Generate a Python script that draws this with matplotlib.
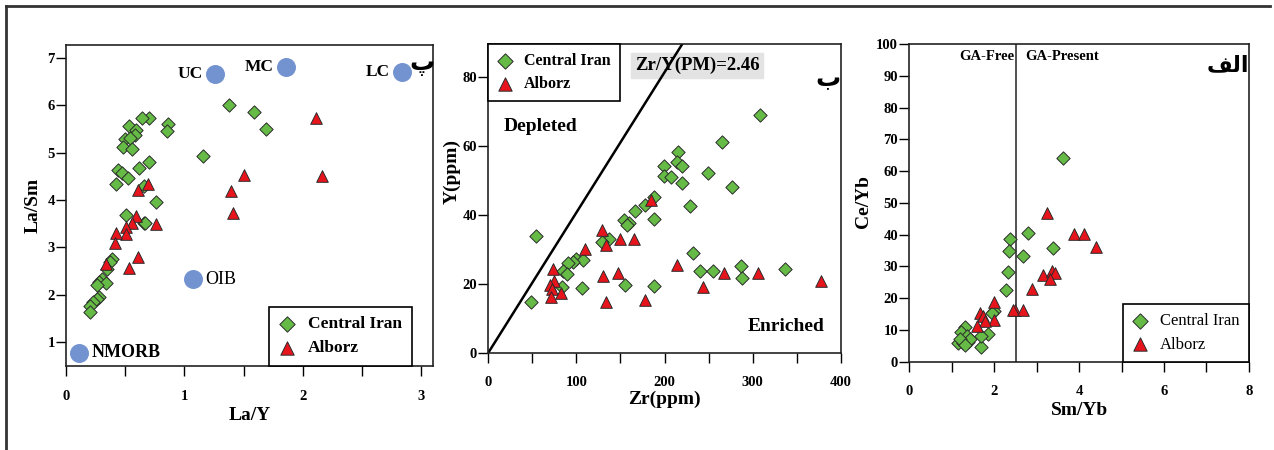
import matplotlib.pyplot as plt
from matplotlib.lines import Line2D
from matplotlib.ticker import MultipleLocator

plt.rcParams['font.family'] = ['Liberation Serif', 'DejaVu Sans']
plt.rcParams['font.weight'] = 'bold'
plt.rcParams['axes.labelweight'] = 'bold'

GREEN = '#66bb46'
RED = '#e8141c'
BLUE = '#7393d0'
EDGE = '#2b2b2b'

# La/Y vs La/Sm
lay_ci = [1.38, 1.59, 1.69, 1.16, 0.70, 0.64, 0.86, 0.85, 0.53, 0.59, 0.58, 0.50, 0.54,
          0.48, 0.56, 0.44, 0.47, 0.52, 0.42, 0.62, 0.70, 0.66, 0.76, 0.51, 0.66, 0.67,
          0.39, 0.37, 0.35, 0.30, 0.28, 0.34, 0.26, 0.28, 0.26, 0.23, 0.20, 0.20]
lasm_ci = [6.00, 5.85, 5.49, 4.93, 5.74, 5.74, 5.61, 5.45, 5.57, 5.47, 5.37, 5.28, 5.30,
           5.11, 5.07, 4.63, 4.56, 4.46, 4.34, 4.67, 4.81, 4.30, 3.95, 3.68, 3.52, 3.51,
           2.76, 2.69, 2.54, 2.33, 2.28, 2.24, 2.21, 1.96, 1.91, 1.86, 1.77, 1.63]
lay_alb = [2.11, 2.16, 1.50, 1.39, 1.41, 0.69, 0.61, 0.59, 0.76, 0.56, 0.51, 0.51, 0.42,
           0.41, 0.61, 0.53, 0.34]
lasm_alb = [5.72, 4.51, 4.53, 4.19, 3.72, 4.34, 4.22, 3.67, 3.49, 3.51, 3.44, 3.28, 3.31,
            3.09, 2.80, 2.57, 2.66]
ref_names = ['NMORB', 'OIB', 'UC', 'MC', 'LC']
ref_lay = [0.107, 1.07, 1.258, 1.857, 2.837]
ref_lasm = [0.78, 2.33, 6.65, 6.81, 6.71]

# Zr vs Y (ppm)
zr_ci = [308, 265, 215, 214, 220, 199, 199, 207, 220, 249, 277, 229, 188, 178, 166, 188,
         154, 160, 157, 54, 137, 129, 232, 240, 255, 287, 288, 337, 100, 108, 96, 90, 85,
         89, 106, 84, 155, 188, 48]
y_ci = [68.9, 61.0, 58.3, 55.2, 54.1, 54.1, 51.2, 51.0, 49.1, 52.0, 48.1, 42.5, 45.2, 42.8,
        41.1, 38.9, 38.5, 37.7, 37.0, 33.9, 33.1, 32.0, 28.8, 23.7, 23.7, 25.2, 21.8, 24.4,
        27.1, 26.9, 26.4, 25.9, 23.8, 22.8, 18.8, 19.1, 19.6, 19.4, 14.8]
zr_alb = [73, 74, 70, 72, 71, 83, 110, 129, 134, 150, 165, 130, 147, 134, 178, 185, 214,
          244, 267, 306, 378]
y_alb = [24.2, 20.9, 19.6, 18.5, 16.2, 17.2, 30.0, 35.6, 31.2, 33.1, 33.1, 22.3, 23.0, 14.8,
         15.3, 44.4, 25.4, 19.1, 23.0, 23.2, 20.9]
ZR_Y_PM = 2.46

# Sm/Yb vs Ce/Yb
smyb_ci = [3.63, 2.80, 2.37, 2.35, 2.67, 3.39, 2.33, 2.27, 2.00, 1.96, 1.85, 1.70, 1.70,
           1.31, 1.23, 1.35, 1.15, 1.27, 1.39, 1.43, 1.19, 1.31]
ceyb_ci = [64.0, 40.4, 38.5, 34.8, 33.2, 35.9, 28.3, 22.6, 15.9, 15.2, 8.7, 4.7, 8.1,
           11.0, 9.4, 8.1, 6.0, 5.8, 6.3, 7.3, 7.3, 5.2]
smyb_alb = [3.25, 3.88, 4.12, 4.41, 3.14, 3.37, 3.43, 3.31, 2.90, 2.50, 2.68, 2.45, 2.00,
            2.00, 1.66, 1.74, 1.78, 1.59]
ceyb_alb = [46.9, 40.2, 40.2, 36.2, 27.3, 28.6, 27.8, 25.9, 22.8, 16.3, 16.3, 16.3, 18.9,
            13.1, 15.2, 14.4, 12.8, 11.2]
GA_LIMIT = 2.52


def groups(ax, x1, y1, x2, y2):
    ax.scatter(x1, y1, marker='D', s=46, c=GREEN, edgecolors=EDGE, linewidths=0.7,
               label='Central Iran', zorder=3)
    ax.scatter(x2, y2, marker='^', s=70, c=RED, edgecolors=EDGE, linewidths=0.7,
               label='Alborz', zorder=3)


def style(ax, xmaj, xmin, ymaj):
    ax.xaxis.set_major_locator(MultipleLocator(xmaj))
    ax.xaxis.set_minor_locator(MultipleLocator(xmin))
    ax.yaxis.set_major_locator(MultipleLocator(ymaj))
    ax.tick_params(which='both', direction='out', length=7, width=1.0, labelsize=10.5)
    ax.tick_params(axis='x', which='both', pad=10)
    ax.tick_params(axis='y', pad=1)
    for sp in ax.spines.values():
        sp.set_linewidth(1.2)
        sp.set_color('#222222')


def labels(ax, xlabel, ylabel, xpos, ypos):
    ax.set_xlabel(xlabel, fontsize=14, weight='bold')
    ax.set_ylabel(ylabel, fontsize=14, weight='bold')
    ax.xaxis.set_label_coords(*xpos)
    ax.xaxis.label.set_va('center')
    ax.yaxis.set_label_coords(*ypos)
    ax.yaxis.label.set_va('center')


def legend(ax, anchor, loc, weight, size):
    leg = ax.legend(loc=loc, bbox_to_anchor=anchor, borderaxespad=0, fancybox=False,
                    edgecolor='black', framealpha=1, scatterpoints=1, markerscale=1.15,
                    handlelength=1.0, handletextpad=0.7, borderpad=0.55, labelspacing=0.45,
                    prop={'weight': weight, 'size': size})
    leg.get_frame().set_linewidth(1.2)


fig = plt.figure(figsize=(12.74, 4.5), dpi=100)

# outer frame
fig.add_artist(Line2D([6 / 1274, 6 / 1274], [0, 1 - 6 / 450], color='#333333', lw=2,
                      transform=fig.transFigure))
fig.add_artist(Line2D([6 / 1274, 1270 / 1274], [1 - 6 / 450, 1 - 6 / 450], color='#333333',
                      lw=2, transform=fig.transFigure))

# panel پ
ax1 = fig.add_axes([0.0518, 0.1867, 0.2881, 0.7133])
groups(ax1, lay_ci, lasm_ci, lay_alb, lasm_alb)
ax1.scatter(ref_lay, ref_lasm, s=160, c=BLUE, zorder=3)
for name, x, y in zip(ref_names, ref_lay, ref_lasm):
    if name in ('NMORB', 'OIB'):
        ax1.text(x + 0.11, y, name, ha='left', va='center', fontsize=13,
                 weight='bold' if name == 'NMORB' else 'normal')
    else:
        ax1.text(x - 0.1, y, name, ha='right', va='center', fontsize=12.5)
ax1.set_xlim(0, 3.1)
ax1.set_ylim(0.5, 7.27)
style(ax1, 1, 0.5, 1)
labels(ax1, 'La/Y', 'La/Sm', (0.5, -0.153), (-0.09, 0.5))
ax1.text(3.01, 6.87, 'پ', ha='center', va='center', fontsize=18,
         family=['DejaVu Sans'], weight='bold')
legend(ax1, (0.942, 0), 'lower right', 'bold', 12.5)

# panel ب
ax2 = fig.add_axes([0.3833, 0.2162, 0.2766, 0.6860])
groups(ax2, zr_ci, y_ci, zr_alb, y_alb)
ax2.set_xlim(0, 400)
ax2.set_ylim(0, 89.5)
y_top = 89.5
ax2.plot([0, y_top * ZR_Y_PM], [0, y_top], color='black', lw=1.8, zorder=2)
ax2.text(236.8, 83.2, 'Zr/Y(PM)=%.2f' % ZR_Y_PM, ha='center', va='center', fontsize=13.5,
         bbox=dict(boxstyle='square,pad=0.2', fc='#e3e3e3', ec='#e3e3e3'), zorder=1)
ax2.text(59.8, 65.5, 'Depleted', ha='center', va='center', fontsize=14)
ax2.text(337.7, 7.5, 'Enriched', ha='center', va='center', fontsize=14)
ax2.text(385, 79.3, 'ب', ha='center', va='center', fontsize=18,
         family=['DejaVu Sans'], weight='bold')
style(ax2, 100, 50, 20)
labels(ax2, 'Zr(ppm)', 'Y(ppm)', (0.5, -0.150), (-0.104, 0.586))
legend(ax2, (0, 1), 'upper left', 'bold', 11.5)

# panel الف
ax3 = fig.add_axes([0.7137, 0.1962, 0.2666, 0.7060])
groups(ax3, smyb_ci, ceyb_ci, smyb_alb, ceyb_alb)
ax3.axvline(GA_LIMIT, color='#333333', lw=1.2, zorder=2)
ax3.set_xlim(0, 8)
ax3.set_ylim(0, 100)
ax3.text(1.82, 96.0, 'GA-Free', ha='center', va='center', fontsize=10.5)
ax3.text(3.59, 96.0, 'GA-Present', ha='center', va='center', fontsize=10.5)
ax3.text(7.5, 93.4, '\ufed2\ufedf\ufe8d', ha='center', va='center', fontsize=16,
         family=['DejaVu Sans'], weight='bold')
style(ax3, 2, 1, 10)
labels(ax3, 'Sm/Yb', 'Ce/Yb', (0.5, -0.152), (-0.136, 0.503))
legend(ax3, (1, 0), 'lower right', 'normal', 12)

fig.savefig('out.png', dpi=100)
